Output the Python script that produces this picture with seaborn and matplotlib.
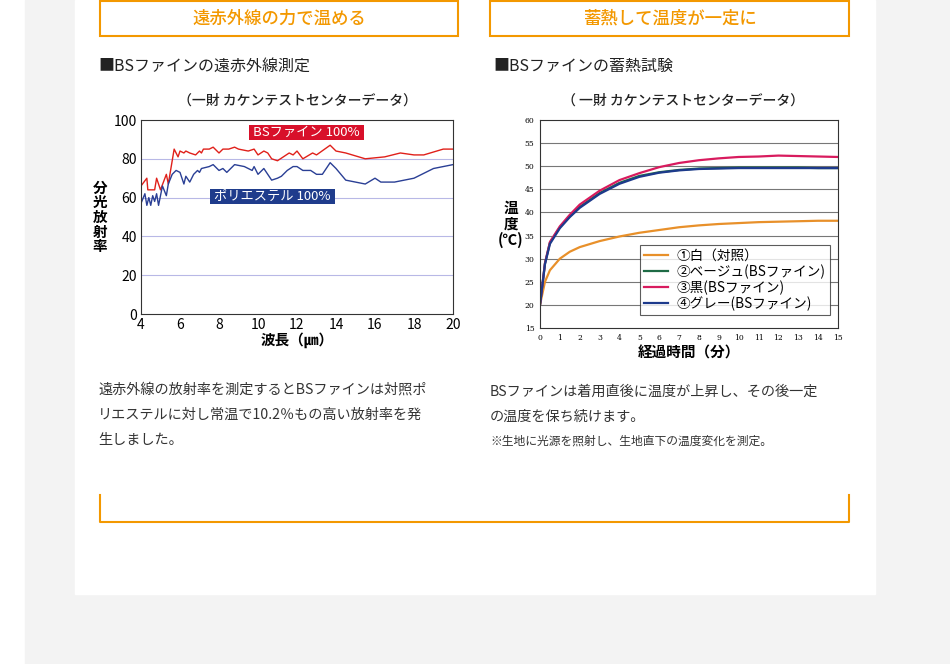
import matplotlib
matplotlib.use("Agg")
import matplotlib.pyplot as plt
import seaborn as sns
import pandas as pd
from matplotlib.patches import Rectangle
from matplotlib.lines import Line2D

plt.rcParams["font.family"] = ["Noto Sans CJK JP", "DejaVu Sans"]

# ---- left chart data ----
red_x = [4,4.3,4.35,4.4,4.7,4.8,5.0,5.3,5.4,5.7,5.9,6.0,6.2,6.3,6.5,6.8,7.0,7.1,7.2,7.5,7.7,8.0,8.2,8.5,8.8,9.0,9.5,9.8,10.0,10.3,10.5,10.7,11.0,11.3,11.6,11.8,12.0,12.3,12.8,13.0,13.7,14.0,14.5,15.5,16.5,17.3,18.0,18.5,19.5,20]
red_y = [66,70,64,64,64,70,64,72,67,85,81,84,83,84,83,82,84,83,85,85,86,83,85,85,86,85,84,85,82,84,83,80,79,81,83,82,84,80,83,82,87,84,83,80,81,83,82,82,85,85]
blue_x = [4,4.2,4.3,4.4,4.5,4.6,4.7,4.8,4.9,5.1,5.3,5.4,5.6,5.8,6.0,6.2,6.3,6.5,6.7,6.9,7.0,7.1,7.5,7.7,8.0,8.2,8.4,8.8,9.3,9.7,9.8,10.0,10.3,10.7,11.0,11.2,11.5,11.8,12.0,12.3,12.7,13.0,13.3,13.7,14.0,14.5,15.5,16.0,16.3,17.0,18.0,19.0,19.5,20]
blue_y = [57,62,56,60,56,61,58,62,56,66,61,67,72,74,73,67,71,68,72,74,73,75,76,77,74,75,73,77,76,74,76,72,75,69,70,71,74,76,76,74,74,72,72,78,75,69,67,70,68,68,70,75,76,77]

# ---- right chart data ----
t = [0,0.25,0.5,1,1.5,2,3,4,5,6,7,8,9,10,11,12,13,14,15]
white = [20,25,27.5,30,31.5,32.5,33.8,34.8,35.6,36.2,36.8,37.2,37.5,37.7,37.9,38.0,38.1,38.2,38.2]
beige = [20,29,33.5,36.8,39.2,41.2,44.2,46.4,47.9,48.7,49.2,49.5,49.6,49.7,49.7,49.7,49.7,49.6,49.6]
black = [20,29,33.6,37.0,39.5,41.7,44.7,47.0,48.5,49.8,50.7,51.3,51.7,52.0,52.1,52.3,52.2,52.1,52.0]
grey = [20,28.8,33.2,36.6,39.0,41.0,44.0,46.2,47.7,48.6,49.1,49.4,49.5,49.6,49.6,49.6,49.6,49.6,49.6]
legend_labels = ["①白（対照）", "②ベージュ(BSファイン)", "③黒(BSファイン)", "④グレー(BSファイン)"]
colors = ["#e8902a", "#1e6b45", "#d81b5e", "#1d3a8c"]

W, H = 950, 664
fig = plt.figure(figsize=(9.5, 6.64), dpi=100)
fig.patch.set_facecolor("white")

def px(x, y, w, h):
    return [x / W, 1 - (y + h) / H, w / W, h / H]

bg = fig.add_axes([0, 0, 1, 1]); bg.set_xlim(0, W); bg.set_ylim(H, 0); bg.axis("off")
bg.add_patch(Rectangle((25, 0), 925, 664, color="#f3f3f3"))
bg.add_patch(Rectangle((75, 0), 800, 594, color="white"))
orange = "#f39800"
for x0, x1, txt in [(100, 458, "遠赤外線の力で温める"), (490, 849, "蓄熱して温度が一定に")]:
    bg.add_patch(Rectangle((x0, 1), x1 - x0, 35, fill=False, ec=orange, lw=1.5))
    bg.text((x0 + x1) / 2, 19, txt, color=orange, ha="center", va="center", fontsize=12.5, fontweight="medium")
bg.plot([100, 100, 849, 849], [495, 522, 522, 495], color=orange, lw=1.5)
bg.text(98, 66, "■BSファインの遠赤外線測定", fontsize=11.5, va="center", color="#222")
bg.text(493, 66, "■BSファインの蓄熱試験", fontsize=11.5, va="center", color="#222")
bg.text(297, 101, "（一財 カケンテストセンターデータ）", fontsize=10, ha="center", va="center", color="#222", fontweight="medium")
bg.text(683, 101, "（ 一財 カケンテストセンターデータ）", fontsize=10, ha="center", va="center", color="#222", fontweight="medium")
for i, s in enumerate(["遠赤外線の放射率を測定するとBSファインは対照ポ",
                       "リエステルに対し常温で10.2％もの高い放射率を発",
                       "生しました。"]):
    bg.text(98, 390 + i * 25, s, fontsize=10.2, va="center", color="#333")
bg.text(490, 392, "BSファインは着用直後に温度が上昇し、その後一定", fontsize=10.2, va="center", color="#333")
bg.text(490, 417, "の温度を保ち続けます。", fontsize=10.2, va="center", color="#333")
bg.text(490, 441, "※生地に光源を照射し、生地直下の温度変化を測定。", fontsize=8.5, va="center", color="#333")

# ---- left axes ----
ax1 = fig.add_axes(px(141, 120, 312, 194))
sns.lineplot(x=red_x, y=red_y, ax=ax1, color="#e0201a", lw=1, sort=False)
sns.lineplot(x=blue_x, y=blue_y, ax=ax1, color="#2a3f95", lw=1, sort=False)
ax1.set_xlim(4, 20); ax1.set_ylim(0, 100)
ax1.set_xticks(range(4, 21, 2)); ax1.set_yticks(range(0, 101, 20))
for y in [20, 40, 60, 80]:
    ax1.axhline(y, color="#b8b8e6", lw=0.8, zorder=0)
ax1.tick_params(labelsize=10, length=0, pad=3)
for s in ax1.spines.values(): s.set_color("#333")
ax1.set_xlabel("波長（㎛）", fontsize=10.5, fontweight="bold", labelpad=0)
ax1.set_ylabel("分\n光\n放\n射\n率", fontsize=10.5, fontweight="bold", rotation=0, va="center", labelpad=10, linespacing=0.9)
ax1.text(9.6, 93.5, " BSファイン 100% ", color="white", fontsize=9.5, ha="left", va="center",
         bbox=dict(boxstyle="square,pad=0.1", fc="#d8102a", ec="none"))
ax1.text(7.6, 60.5, " ポリエステル 100% ", color="white", fontsize=9.5, ha="left", va="center",
         bbox=dict(boxstyle="square,pad=0.1", fc="#1f3c8c", ec="none"))

# ---- right axes ----
ax2 = fig.add_axes(px(540, 120, 298, 208))
for ys, c in zip([white, beige, black, grey], colors):
    sns.lineplot(x=t, y=ys, ax=ax2, color=c, lw=1.6)
ax2.set_xlim(0, 15); ax2.set_ylim(15, 60)
ax2.set_xticks(range(0, 16)); ax2.set_yticks(range(15, 61, 5))
for y in range(20, 60, 5):
    ax2.axhline(y, color="#777", lw=0.8, zorder=0)
ax2.tick_params(length=0, pad=4)
for lab in ax2.get_xticklabels() + ax2.get_yticklabels():
    lab.set_fontfamily("DejaVu Serif"); lab.set_fontsize(5.5)
for s in ax2.spines.values(): s.set_color("#333")
ax2.set_xlabel("経過時間（分）", fontsize=10.5, fontweight="bold", labelpad=2)
ax2.set_ylabel("温\n度\n(℃)", fontsize=10.5, fontweight="bold", rotation=0, va="center", labelpad=10, linespacing=1.0)
handles = [Line2D([], [], color=c, lw=1.6) for c in colors]
leg = ax2.legend(handles, legend_labels, loc="lower right", bbox_to_anchor=(0.995, 0.03),
                 fontsize=9.8, frameon=True, fancybox=False, edgecolor="#333",
                 handlelength=1.8, borderpad=0.3, labelspacing=0.1, handletextpad=0.6)
leg.get_frame().set_linewidth(0.8)

fig.savefig("out.png", dpi=100)
